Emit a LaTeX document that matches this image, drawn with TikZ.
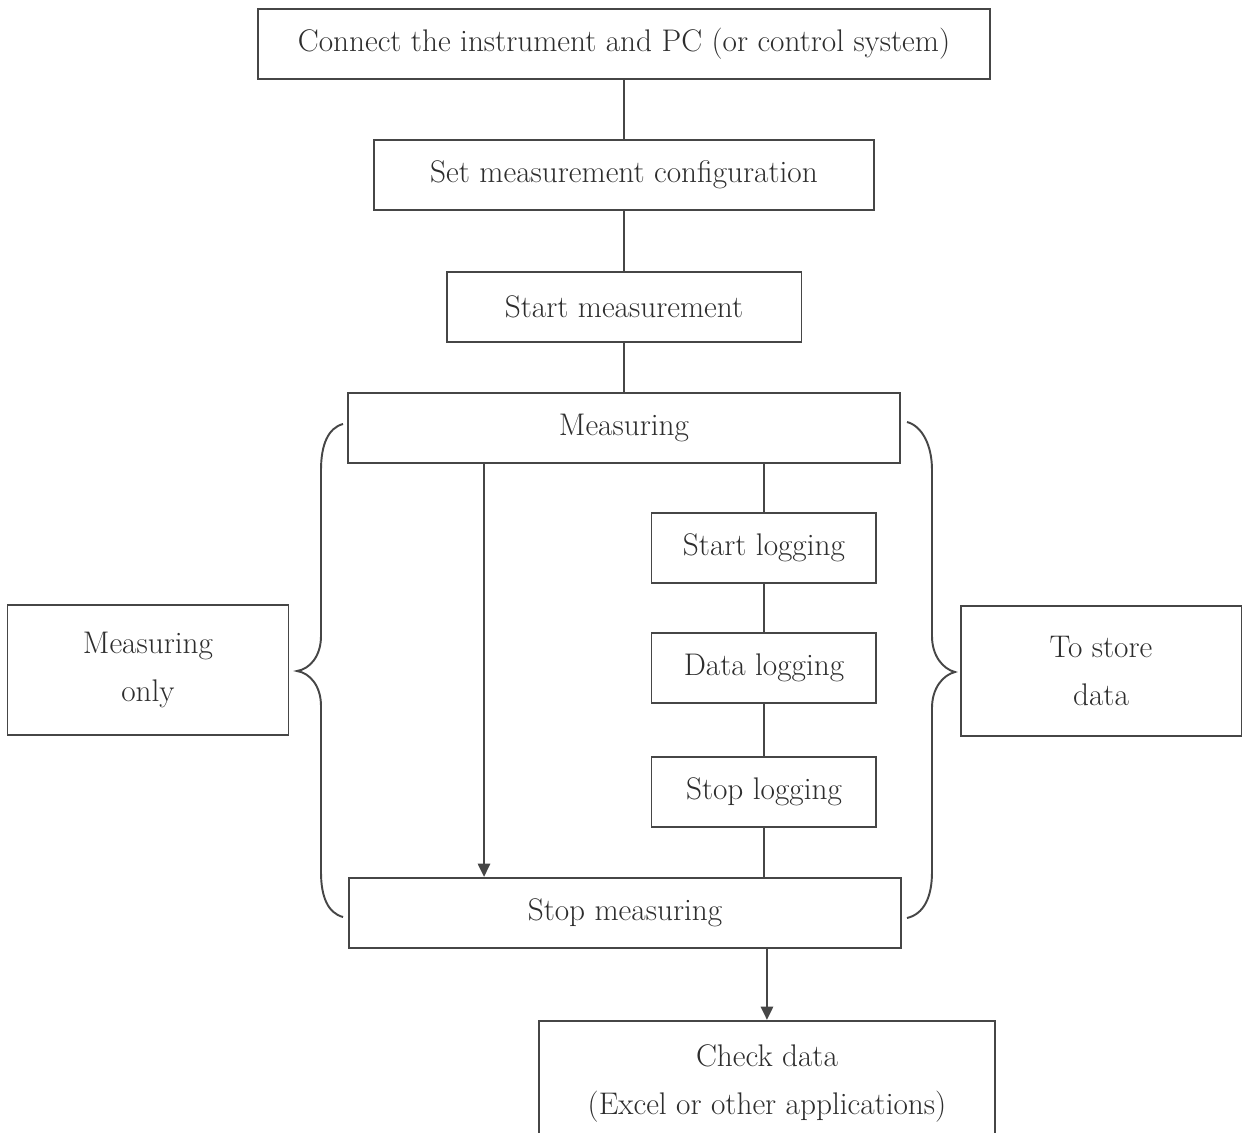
\documentclass[tikz,border=0pt]{standalone}
\usepackage{xcolor}
\usepackage{tikz}
\usetikzlibrary{arrows.meta,calc,positioning}
\definecolor{inkgray}{RGB}{70,70,70}
\definecolor{textgray}{RGB}{45,45,45}
\tikzset{FLOW style/.style={>={Triangle[length=7.5pt,width=7pt]},color=inkgray,line width=1.1pt,every node/.style={text=textgray,font=\fontsize{17.8}{27.5}\selectfont}}}

\begin{document}
\begin{tikzpicture}[FLOW style,x=0.02cm,y=-0.02cm]
	\tikzstyle{box}= [draw, rectangle, minimum height=1.4cm, inner sep=2pt, align=center]
	%	\tikzstyle{side}= [box, minimum height=2.6cm]
	\useasboundingbox (0,0) rectangle (1242,1133);
	
	\node[box, minimum width=14.64cm] (conn) at (624,44) {Connect the instrument and PC (or control system)};
	\node[box, minimum width=10cm] [below of=conn, node distance=2.62cm] (set) {Set measurement configuration};
	\node[box, minimum width=7.1cm] [below of=set, node distance=2.64cm] (start) {Start measurement};
	\node[box, minimum width=11.06cm] [below of=start, node distance=2.42cm] (meas) {Measuring};
	\node[box, minimum width=4.5cm] [below of=meas, xshift=2.8cm, node distance=2.4cm] (slog) {Start logging};
	\node[box, minimum width=4.5cm] [below of=slog, node distance=2.4cm] (dlog) {Data logging};
	\node[box, minimum width=4.5cm] [below of=dlog, node distance=2.48cm] (elog) {Stop logging};
	\node[box, minimum width=11.06cm] [below of=meas, xshift=0.02cm, node distance=9.7cm] (smeas) {Stop measuring};
	\node[box, minimum width=9.12cm, minimum height=2.5cm] [below of=smeas, xshift=2.84cm, node distance=3.41cm] (check) {Check data\\(Excel or other applications)};
	
	\node[box, minimum width=5.62cm, minimum height=2.6cm] (only) at (148,670) {Measuring\\only};
	\node[box, minimum width=5.62cm, minimum height=2.6cm] (store) at (1101,671) {To store\\data};
	
	\draw (conn) -- (set)
	(set) -- (start)
	(start) -- (meas)
	;
	
	\draw[->] ([xshift=-2.8cm]meas.south) -- ([xshift=-2.8cm]meas.south |- smeas.north);
	
	\draw (slog |- meas.south) -- (slog)
	(slog) -- (dlog)
	(dlog) -- (elog)
	(elog) -- (elog |- smeas.north)
	;
	
	\draw[->] (smeas.south -| check) -- (check);
	
	% braces
	\draw (343,424) .. controls (328,428) and (321,445) .. (321,470) -- (321,636)
	.. controls (321,656) and (310,669) .. (297,671)
	.. controls (310,673) and (321,686) .. (321,706) -- (321,872)
	.. controls (321,897) and (328,913) .. (343,917);
	\draw (907,422) .. controls (922,426) and (932,445) .. (932,470) -- (932,636)
	.. controls (932,656) and (943,669) .. (955,672)
	.. controls (943,675) and (932,688) .. (932,708) -- (932,872)
	.. controls (932,897) and (924,914) .. (907,918);
\end{tikzpicture}
\end{document}
